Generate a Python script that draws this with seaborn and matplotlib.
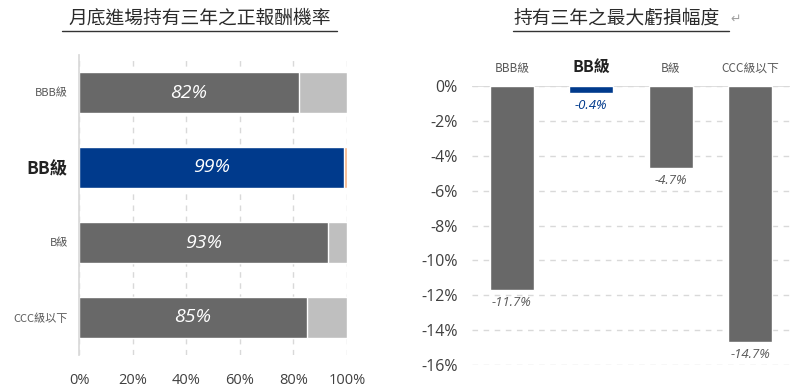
import seaborn as sns
import pandas as pd
import matplotlib.pyplot as plt
from matplotlib.lines import Line2D

# data
grades = ['BBB級', 'BB級', 'B級', 'CCC級以下']
win_rate = [82, 99, 93, 85]          # 正報酬機率 (%)
max_loss = [-11.7, -0.4, -4.7, -14.7]  # 最大虧損幅度 (%)
x_ticks = [0, 20, 40, 60, 80, 100]
y_ticks = [0, -2, -4, -6, -8, -10, -12, -14, -16]

sns.set_theme(style='white')
plt.rcParams['font.family'] = ['Noto Sans CJK TC', 'DejaVu Sans']
num_font = ['Open Sans', 'DejaVu Sans']

dark = '#686868'
light = '#BFBFBF'
blue = '#003A8C'
orange = '#F4B183'
txt = '#595959'
grid = '#D9D9D9'

df = pd.DataFrame({'grade': grades, 'win': win_rate, 'loss': max_loss,
                   'full': [100] * len(grades)})

fig = plt.figure(figsize=(8, 3.9), dpi=100)
ax1 = fig.add_axes([79 / 800, 35 / 390, 268 / 800, 300 / 390])
ax2 = fig.add_axes([472 / 800, 25 / 390, 318 / 800, 279 / 390])

# ---- left: stacked horizontal bars
bg_colors = [light, orange, light, light]
fg_colors = [dark, blue, dark, dark]
sns.barplot(data=df, y='grade', x='full', hue='grade', palette=bg_colors,
            orient='h', width=0.55, saturation=1, legend=False, ax=ax1, zorder=2)
sns.barplot(data=df, y='grade', x='win', hue='grade', palette=fg_colors,
            orient='h', width=0.55, saturation=1, legend=False, ax=ax1, zorder=3)
ax1.set_xlim(0, 100)
ax1.set_ylim(3.5, -0.5)
ax1.set_xticks(x_ticks)
ax1.set_xticklabels([f'{v}%' for v in x_ticks], color='#404040', fontsize=10.5,
                    family=num_font)
ax1.tick_params(axis='x', length=0, pad=13)
ax1.set_yticks(range(len(grades)))
ax1.set_yticklabels(grades)
ax1.tick_params(axis='y', length=0, pad=8)
for i, lab in enumerate(ax1.get_yticklabels()):
    if i == 1:
        lab.set_fontsize(12.5)
        lab.set_fontweight('bold')
        lab.set_color('#222222')
    else:
        lab.set_fontsize(8)
        lab.set_color(txt)
ax1.set_xlabel('')
ax1.set_ylabel('')
ax1.xaxis.grid(True, color=grid, linestyle=(0, (4, 4)), linewidth=1, zorder=0)
for s in ['top', 'right', 'bottom']:
    ax1.spines[s].set_visible(False)
ax1.spines['left'].set_color(grid)
ax1.spines['left'].set_zorder(4)
for i, v in enumerate(win_rate):
    ax1.text(v / 2, i, f'{v}%', color='white', fontsize=14, style='italic',
             family=num_font, ha='center', va='center', zorder=5)

# ---- right: column bars
loss_colors = [dark, blue, dark, dark]
sns.barplot(data=df, x='grade', y='loss', hue='grade', palette=loss_colors,
            width=0.55, saturation=1, legend=False, ax=ax2, zorder=3)
ax2.set_ylim(-16, 0)
ax2.set_xlim(-0.5, 3.5)
ax2.set_yticks(y_ticks)
ax2.set_yticklabels([f'{v}%' for v in y_ticks], color='#404040', fontsize=11.5,
                    family=num_font)
ax2.tick_params(axis='y', length=0, pad=10.5)
ax2.xaxis.tick_top()
ax2.set_xticks(range(len(grades)))
ax2.set_xticklabels(grades)
ax2.tick_params(axis='x', length=0, pad=8)
for i, lab in enumerate(ax2.get_xticklabels()):
    if i == 1:
        lab.set_fontsize(11.5)
        lab.set_fontweight('bold')
        lab.set_color('#222222')
    else:
        lab.set_fontsize(8.5)
        lab.set_color(txt)
ax2.set_xlabel('')
ax2.set_ylabel('')
ax2.yaxis.grid(True, color=grid, linestyle=(0, (4, 4)), linewidth=1, zorder=0)
ax2.axhline(0, color=grid, linewidth=1.2, zorder=2)
for s in ax2.spines.values():
    s.set_visible(False)
for i, v in enumerate(max_loss):
    ax2.text(i, v - 0.35, f'{v}%', color=blue if i == 1 else txt, fontsize=9.5,
             style='italic', family=num_font, ha='center', va='top', zorder=5)

# ---- titles with underline
fig.text(200 / 800, 1 - 18 / 390, '月底進場持有三年之正報酬機率', ha='center',
         va='center', fontsize=13.5, color='#2b2b2b', fontweight='medium')
fig.add_artist(Line2D([62 / 800, 337 / 800], [1 - 31 / 390] * 2,
                      color='#333333', linewidth=1))
fig.text(513 / 800, 1 - 18 / 390, '持有三年之最大虧損幅度', ha='left',
         va='center', fontsize=13.5, color='#2b2b2b', fontweight='medium')
fig.text(730 / 800, 1 - 19 / 390, '↵', ha='left', va='center', fontsize=9,
         color='#A0A0A0', family=['DejaVu Sans'])
fig.add_artist(Line2D([513 / 800, 729 / 800], [1 - 31 / 390] * 2,
                      color='#333333', linewidth=1))

fig.savefig('out.png', dpi=100, facecolor='white')
